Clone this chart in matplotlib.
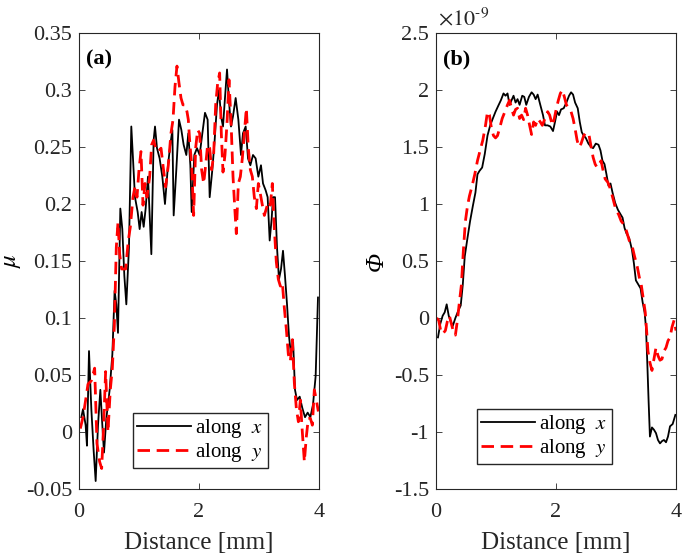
import numpy as np
import matplotlib
matplotlib.use('Agg')
import matplotlib.pyplot as plt
from matplotlib.ticker import FuncFormatter

plt.rcParams['font.family'] = ['Liberation Serif', 'DejaVu Serif']
plt.rcParams['mathtext.fontset'] = 'stix'
plt.rcParams['axes.unicode_minus'] = False

# (a) friction coefficient mu, (distance mm, value) pairs
mu_x = [(0.039, 0.013), (0.067, 0.020), (0.111, 0.006), (0.133, -0.012), (0.167, 0.071), (0.206, 0.020),
        (0.244, -0.016), (0.278, -0.043), (0.317, 0.006), (0.356, 0.037), (0.389, 0.006), (0.417, -0.018),
        (0.456, 0.012), (0.511, 0.037), (0.556, 0.068), (0.594, 0.124), (0.622, 0.112), (0.650, 0.087),
        (0.689, 0.196), (0.722, 0.178), (0.756, 0.137), (0.789, 0.112), (0.833, 0.162), (0.872, 0.268),
        (0.900, 0.240), (0.933, 0.206), (0.978, 0.193), (1.011, 0.178), (1.044, 0.193), (1.078, 0.180),
        (1.111, 0.196), (1.150, 0.224), (1.178, 0.190), (1.206, 0.156), (1.244, 0.256), (1.267, 0.268),
        (1.300, 0.249), (1.344, 0.240), (1.389, 0.224), (1.433, 0.200), (1.483, 0.234), (1.522, 0.252),
        (1.556, 0.265), (1.578, 0.190), (1.622, 0.230), (1.667, 0.274), (1.706, 0.265), (1.744, 0.252),
        (1.789, 0.243), (1.822, 0.262), (1.856, 0.234), (1.878, 0.193), (1.922, 0.243), (1.967, 0.249),
        (2.011, 0.243), (2.056, 0.262), (2.100, 0.280), (2.144, 0.274), (2.178, 0.206), (2.222, 0.230),
        (2.261, 0.256), (2.300, 0.287), (2.333, 0.300), (2.367, 0.277), (2.400, 0.268), (2.433, 0.293),
        (2.467, 0.318), (2.500, 0.290), (2.533, 0.268), (2.567, 0.277), (2.611, 0.293), (2.656, 0.274),
        (2.700, 0.243), (2.733, 0.262), (2.778, 0.268), (2.817, 0.240), (2.856, 0.234), (2.900, 0.243),
        (2.944, 0.240), (2.989, 0.224), (3.033, 0.234), (3.067, 0.218), (3.111, 0.212), (3.144, 0.206),
        (3.178, 0.168), (3.211, 0.187), (3.233, 0.206), (3.267, 0.206), (3.300, 0.162), (3.333, 0.134),
        (3.367, 0.143), (3.400, 0.159), (3.433, 0.137), (3.467, 0.112), (3.500, 0.084), (3.533, 0.068),
        (3.567, 0.081), (3.600, 0.037), (3.633, 0.028), (3.678, 0.031), (3.722, 0.021), (3.767, 0.013),
        (3.811, 0.017), (3.856, 0.013), (3.900, 0.024), (3.944, 0.049), (3.983, 0.118)]

mu_y = [(0.022, 0.003), (0.067, 0.013), (0.111, 0.028), (0.150, 0.042), (0.206, 0.045), (0.261, 0.056),
        (0.300, -0.010), (0.344, -0.026), (0.378, -0.032), (0.411, 0.006), (0.444, 0.053), (0.483, 0.000),
        (0.522, 0.037), (0.556, 0.056), (0.589, 0.093), (0.622, 0.162), (0.650, 0.184), (0.678, 0.156),
        (0.711, 0.143), (0.744, 0.143), (0.778, 0.143), (0.822, 0.168), (0.856, 0.180), (0.900, 0.206),
        (0.933, 0.215), (0.967, 0.206), (1.000, 0.230), (1.033, 0.246), (1.067, 0.199), (1.100, 0.218),
        (1.133, 0.206), (1.178, 0.224), (1.211, 0.252), (1.244, 0.256), (1.278, 0.249), (1.322, 0.246),
        (1.367, 0.249), (1.400, 0.234), (1.444, 0.215), (1.489, 0.234), (1.533, 0.262), (1.567, 0.274),
        (1.600, 0.303), (1.633, 0.321), (1.667, 0.306), (1.700, 0.293), (1.733, 0.287), (1.767, 0.287),
        (1.800, 0.281), (1.822, 0.274), (1.844, 0.256), (1.878, 0.234), (1.911, 0.190), (1.944, 0.249),
        (1.978, 0.265), (2.011, 0.262), (2.044, 0.230), (2.078, 0.218), (2.111, 0.234), (2.144, 0.252),
        (2.178, 0.249), (2.211, 0.230), (2.244, 0.243), (2.278, 0.287), (2.311, 0.306), (2.344, 0.315),
        (2.372, 0.262), (2.400, 0.228), (2.433, 0.243), (2.467, 0.271), (2.500, 0.309), (2.533, 0.274),
        (2.567, 0.224), (2.600, 0.193), (2.622, 0.174), (2.656, 0.218), (2.689, 0.224), (2.722, 0.240),
        (2.756, 0.262), (2.789, 0.284), (2.822, 0.249), (2.856, 0.230), (2.889, 0.224), (2.922, 0.206),
        (2.956, 0.196), (2.989, 0.218), (3.022, 0.209), (3.056, 0.199), (3.089, 0.190), (3.122, 0.196),
        (3.156, 0.202), (3.189, 0.199), (3.222, 0.218), (3.256, 0.178), (3.289, 0.149), (3.322, 0.134),
        (3.356, 0.128), (3.389, 0.131), (3.422, 0.109), (3.456, 0.090), (3.489, 0.068), (3.522, 0.062),
        (3.556, 0.081), (3.589, 0.043), (3.622, 0.021), (3.656, 0.009), (3.689, 0.028), (3.722, 0.000),
        (3.756, -0.026), (3.789, -0.004), (3.822, 0.012), (3.856, 0.012), (3.889, 0.006), (3.922, 0.037),
        (3.956, 0.028), (3.989, 0.018)]

# (b) Phi, values in units of 1e-9
phi_x = [(0.033, -0.17), (0.072, -0.05), (0.111, 0.02), (0.145, 0.05), (0.178, 0.12), (0.212, 0.02),
         (0.245, -0.03), (0.279, -0.07), (0.323, 0.00), (0.368, 0.06), (0.412, 0.11), (0.446, 0.29),
         (0.479, 0.54), (0.524, 0.70), (0.568, 0.85), (0.613, 0.98), (0.657, 1.10), (0.691, 1.26),
         (0.724, 1.29), (0.769, 1.32), (0.813, 1.44), (0.858, 1.60), (0.903, 1.69), (0.947, 1.75),
         (0.992, 1.81), (1.036, 1.86), (1.081, 1.91), (1.125, 1.97), (1.159, 1.95), (1.192, 1.97),
         (1.226, 1.87), (1.259, 1.91), (1.292, 1.95), (1.326, 1.89), (1.359, 1.92), (1.393, 1.87),
         (1.437, 1.95), (1.471, 1.94), (1.504, 1.87), (1.549, 1.94), (1.593, 1.98), (1.627, 1.96),
         (1.660, 1.92), (1.694, 1.96), (1.738, 1.87), (1.783, 1.78), (1.816, 1.69), (1.861, 1.69),
         (1.905, 1.68), (1.950, 1.64), (1.983, 1.72), (2.017, 1.81), (2.050, 1.78), (2.084, 1.83),
         (2.128, 1.84), (2.173, 1.89), (2.217, 1.95), (2.251, 1.98), (2.284, 1.96), (2.318, 1.89),
         (2.362, 1.84), (2.396, 1.72), (2.429, 1.63), (2.462, 1.60), (2.496, 1.58), (2.540, 1.53),
         (2.585, 1.50), (2.618, 1.49), (2.663, 1.53), (2.708, 1.52), (2.741, 1.47), (2.774, 1.38),
         (2.808, 1.35), (2.841, 1.26), (2.875, 1.16), (2.908, 1.18), (2.942, 1.10), (2.986, 1.01),
         (3.031, 0.95), (3.075, 0.91), (3.109, 0.88), (3.142, 0.79), (3.176, 0.74), (3.220, 0.70),
         (3.265, 0.60), (3.298, 0.48), (3.331, 0.33), (3.376, 0.29), (3.409, 0.26), (3.443, 0.14),
         (3.476, 0.05), (3.499, -0.08), (3.521, -0.39), (3.543, -0.73), (3.565, -1.04), (3.599, -0.96),
         (3.632, -0.98), (3.666, -1.01), (3.699, -1.07), (3.733, -1.10), (3.766, -1.08), (3.799, -1.07),
         (3.833, -1.09), (3.866, -1.04), (3.900, -0.95), (3.944, -0.93), (3.989, -0.85)]

phi_y = [(0.011, 0.00), (0.045, -0.02), (0.078, -0.11), (0.111, -0.14), (0.156, -0.11), (0.189, -0.03),
         (0.223, 0.02), (0.256, -0.05), (0.290, -0.12), (0.323, -0.15), (0.357, -0.02), (0.390, 0.14),
         (0.423, 0.29), (0.457, 0.60), (0.490, 0.85), (0.524, 0.98), (0.557, 1.07), (0.602, 1.16),
         (0.646, 1.26), (0.691, 1.38), (0.735, 1.47), (0.780, 1.56), (0.825, 1.69), (0.858, 1.81),
         (0.891, 1.78), (0.925, 1.66), (0.958, 1.60), (0.992, 1.58), (1.025, 1.60), (1.058, 1.66),
         (1.103, 1.75), (1.148, 1.81), (1.192, 1.87), (1.226, 1.91), (1.259, 1.84), (1.292, 1.78),
         (1.326, 1.83), (1.359, 1.84), (1.393, 1.75), (1.426, 1.78), (1.460, 1.74), (1.493, 1.84),
         (1.526, 1.78), (1.560, 1.69), (1.593, 1.61), (1.627, 1.72), (1.660, 1.69), (1.694, 1.75),
         (1.738, 1.72), (1.772, 1.69), (1.816, 1.75), (1.861, 1.81), (1.894, 1.78), (1.939, 1.69),
         (1.972, 1.75), (2.006, 1.84), (2.039, 1.91), (2.072, 1.97), (2.106, 2.00), (2.139, 1.94),
         (2.173, 1.87), (2.217, 1.84), (2.251, 1.81), (2.284, 1.75), (2.318, 1.66), (2.351, 1.56),
         (2.384, 1.50), (2.418, 1.53), (2.462, 1.60), (2.507, 1.63), (2.552, 1.60), (2.585, 1.50),
         (2.618, 1.41), (2.652, 1.35), (2.685, 1.32), (2.719, 1.35), (2.752, 1.38), (2.786, 1.29),
         (2.819, 1.22), (2.864, 1.19), (2.908, 1.13), (2.953, 1.04), (2.997, 0.95), (3.042, 0.91),
         (3.086, 0.85), (3.131, 0.82), (3.176, 0.76), (3.220, 0.68), (3.265, 0.64), (3.309, 0.54),
         (3.354, 0.45), (3.387, 0.36), (3.421, 0.29), (3.454, 0.17), (3.487, 0.05), (3.510, -0.11),
         (3.532, -0.29), (3.565, -0.39), (3.599, -0.46), (3.632, -0.36), (3.666, -0.26), (3.699, -0.33),
         (3.733, -0.37), (3.766, -0.36), (3.799, -0.29), (3.833, -0.26), (3.866, -0.20), (3.900, -0.17),
         (3.933, -0.08), (3.967, -0.02), (4.000, -0.11)]

fig = plt.figure(figsize=(6.85, 5.56), dpi=100)
ax1 = fig.add_axes([0.1153, 0.1205, 0.3504, 0.8201])
ax2 = fig.add_axes([0.6365, 0.1205, 0.3504, 0.8201])

fmt = FuncFormatter(lambda v, p: '%g' % round(v, 4))
spine_c = '#262626'

for ax in (ax1, ax2):
    ax.tick_params(direction='in', top=True, right=True, length=4, width=0.6,
                   labelsize=16, colors=spine_c, pad=5)
    ax.tick_params(axis='x', pad=10)
    for s in ax.spines.values():
        s.set_color(spine_c)
        s.set_linewidth(0.8)
    ax.set_xlim(0, 4)
    ax.set_xticks([0, 2, 4])
    ax.xaxis.set_major_formatter(fmt)
    ax.yaxis.set_major_formatter(fmt)
    ax.set_xlabel('Distance [mm]', fontsize=18, color=spine_c, labelpad=7)

leg_kw = dict(loc='lower left', fontsize=15, handlelength=2.6, fancybox=False,
              edgecolor=spine_c, framealpha=1, borderpad=0.2, labelspacing=0.05,
              handletextpad=0.2, borderaxespad=0)

x, y = np.array(mu_x).T
ax1.plot(x, y, color='black', lw=1.3, label='along  $x$')
x, y = np.array(mu_y).T
ax1.plot(x, y, color='red', lw=2, dashes=(4.5, 2.4), label='along  $y$')
ax1.set_ylim(-0.05, 0.35)
ax1.set_yticks(np.arange(-0.05, 0.351, 0.05))
ax1.set_ylabel(r'$\mu$', fontsize=18, labelpad=2)
ax1.text(0.03, 0.965, '(a)', transform=ax1.transAxes, fontsize=16,
         fontweight='bold', va='top', ha='left')
ax1.legend(bbox_to_anchor=(0.225, 0.046), **leg_kw)

x, y = np.array(phi_x).T
ax2.plot(x, y, color='black', lw=1.3, label='along  $x$')
x, y = np.array(phi_y).T
ax2.plot(x, y, color='red', lw=2, dashes=(4.5, 2.4), label='along  $y$')
ax2.set_ylim(-1.5, 2.5)
ax2.set_yticks(np.arange(-1.5, 2.51, 0.5))
ax2.set_ylabel('Φ', fontsize=18, style='italic', labelpad=4)
ax2.text(0.03, 0.965, '(b)', transform=ax2.transAxes, fontsize=16,
         fontweight='bold', va='top', ha='left')
ax2.text(0.01, 1.005, r'$\times10^{\text{-}9}$', transform=ax2.transAxes, fontsize=16,
         va='bottom', ha='left', color=spine_c)
ax2.legend(bbox_to_anchor=(0.17, 0.054), **leg_kw)

fig.savefig('out.png', dpi=100)
